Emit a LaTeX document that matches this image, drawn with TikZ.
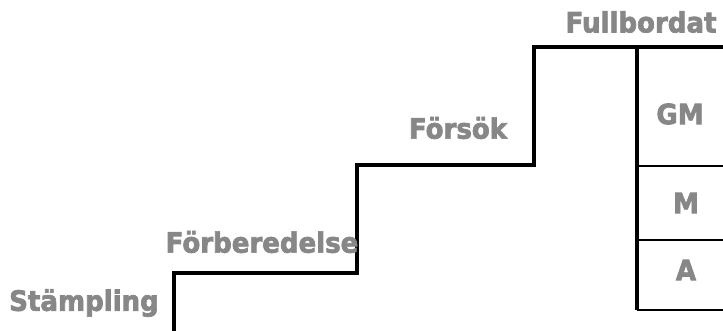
\documentclass[tikz,border=0pt]{standalone}
\usepackage{fontspec}
\setmainfont{DejaVu Sans}[BoldFeatures={FakeStretch=0.93,FakeBold=2.5}]
\definecolor{lbl}{HTML}{878787}
\begin{document}
\begin{tikzpicture}[x=1pt,y=-1pt,
  stair/.style={line width=3.5pt,line join=miter},
  div/.style={line width=2.4pt},
  lab/.style={font=\bfseries\fontsize{28}{28}\selectfont,text=lbl,inner sep=0pt}]
\useasboundingbox (0,0) rectangle (723,331);
\coordinate (s0) at (174,331);
\coordinate (s1) at (174,273);
\coordinate (s2) at (357,273);
\coordinate (s3) at (357,165);
\coordinate (s4) at (534,165);
\coordinate (s5) at (534,47);
\coordinate (s6) at (723,47);
\draw[stair] (s0) -- (s1) -- (s2) -- (s3) -- (s4) -- (s5) -- (s6);
\coordinate (b0) at (637,47);
\coordinate (b1) at (637,310);
\coordinate (b2) at (723,310);
\coordinate (d1a) at (637,166);
\coordinate (d1b) at (723,166);
\coordinate (d2a) at (637,240);
\coordinate (d2b) at (723,240);
\draw[stair] (b0) -- (b1);
\draw[div] (b1) -- (b2);
\draw[div] (d1a) -- (d1b);
\draw[div] (d2a) -- (d2b);
\node[lab] (st) at (84,303) {Stämpling};
\node[lab] (fb) at (262,242) {Förberedelse};
\node[lab] (fs) at (458,128) {Försök};
\node[lab] (fu) at (641,22) {Fullbordat};
\node[lab] (gm) at (680,114) {GM};
\node[lab] (m) at (686,203) {M};
\node[lab] (a) at (686,270) {A};
\end{tikzpicture}
\end{document}
